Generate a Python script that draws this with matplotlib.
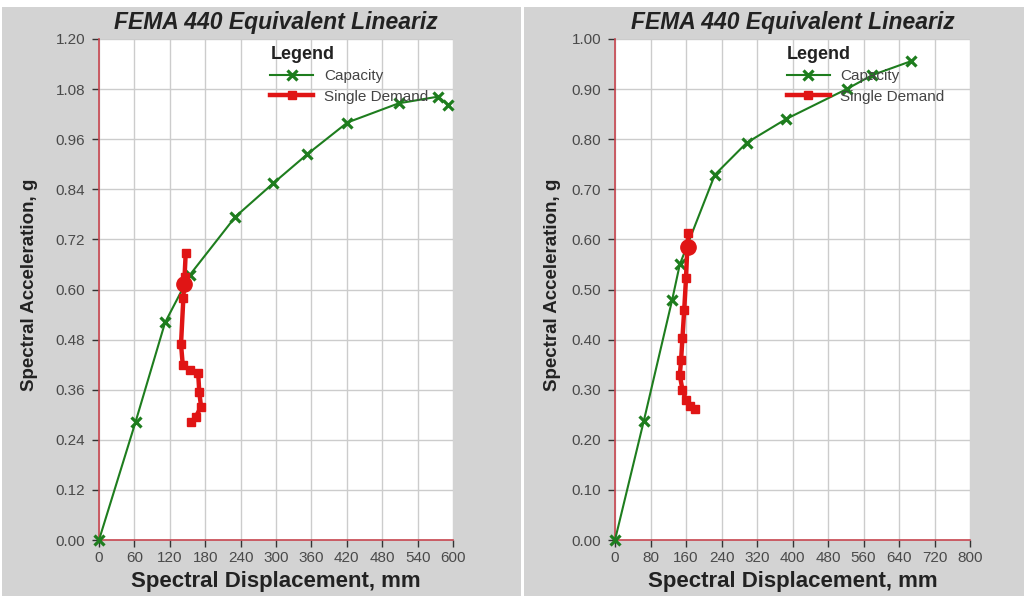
import matplotlib
matplotlib.use("Agg")
import matplotlib.pyplot as plt
from matplotlib.patches import Rectangle

plt.rcParams['font.family'] = ['Liberation Sans', 'DejaVu Sans']

title = "FEMA 440 Equivalent Lineariz"
xlabel = "Spectral Displacement, mm"
ylabel = "Spectral Acceleration, g"
legend_title = "Legend"
series_names = ["Capacity", "Single Demand"]

# Left panel data
left_cap_x = [0, 62, 112, 154, 231, 295, 353, 421, 508, 575, 592]
left_cap_y = [0.0, 0.283, 0.521, 0.635, 0.774, 0.854, 0.924, 1.000, 1.046, 1.062, 1.042]
left_dem_x = [147, 145, 143, 139, 142, 154, 168, 170, 173, 164, 156]
left_dem_y = [0.688, 0.630, 0.580, 0.469, 0.419, 0.407, 0.401, 0.354, 0.319, 0.295, 0.282]
left_perf = (144.6, 0.612)
left_xticks = [0, 60, 120, 180, 240, 300, 360, 420, 480, 540, 600]
left_yticks = [0.00, 0.12, 0.24, 0.36, 0.48, 0.60, 0.72, 0.84, 0.96, 1.08, 1.20]

# Right panel data
right_cap_x = [0, 65, 129, 146, 225, 297, 385, 522, 580, 668]
right_cap_y = [0.0, 0.238, 0.480, 0.550, 0.729, 0.793, 0.840, 0.900, 0.928, 0.956]
right_dem_x = [165, 163, 160, 156, 152, 149, 146, 152, 160, 170, 180]
right_dem_y = [0.612, 0.585, 0.522, 0.460, 0.403, 0.360, 0.329, 0.300, 0.279, 0.268, 0.261]
right_perf = (165, 0.585)
right_xticks = [0, 80, 160, 240, 320, 400, 480, 560, 640, 720, 800]
right_yticks = [0.00, 0.10, 0.20, 0.30, 0.40, 0.50, 0.60, 0.70, 0.80, 0.90, 1.00]

W, H = 1024, 596
fig = plt.figure(figsize=(W / 100, H / 100), dpi=100, facecolor="white")

grey = "#d3d3d3"
fig.add_artist(Rectangle((2 / W, 0), (521 - 2) / W, (H - 7) / H, transform=fig.transFigure,
                         facecolor=grey, edgecolor="none", zorder=0))
fig.add_artist(Rectangle((524 / W, 0), (W - 524) / W, (H - 7) / H, transform=fig.transFigure,
                         facecolor=grey, edgecolor="none", zorder=0))

green = "#1e7d1e"
red = "#e01515"
spine_c = "#c84650"


def make_panel(left_px, right_px, panel_left, cap_x, cap_y, dem_x, dem_y, perf, xticks, yticks, leg_x):
    ax = fig.add_axes([left_px / W, (H - 540) / H, (right_px - left_px) / W, 501 / H])
    ax.set_facecolor("white")
    ax.set_xlim(xticks[0], xticks[-1])
    ax.set_ylim(yticks[0], yticks[-1])
    ax.set_xticks(xticks)
    ax.set_yticks(yticks)
    ax.set_yticklabels(["{:.2f}".format(v) for v in yticks])
    ax.grid(True, color="#cccccc", linewidth=1.0, zorder=0)
    ax.set_axisbelow(True)
    for s in ["top", "right"]:
        ax.spines[s].set_visible(False)
    for s in ["left", "bottom"]:
        ax.spines[s].set_color(spine_c)
        ax.spines[s].set_linewidth(1.2)
    ax.tick_params(axis="both", colors="#333333", labelsize=11, length=5, width=1.0)
    ax.tick_params(axis="y", pad=5)
    ax.tick_params(axis="x", pad=3)
    for lab in ax.get_xticklabels() + ax.get_yticklabels():
        lab.set_color("#4a4a4a")

    ax.plot(cap_x, cap_y, color=green, linewidth=1.5, marker="x", markersize=7,
            markeredgewidth=2.3, label=series_names[0], zorder=3, clip_on=False)
    ax.plot(dem_x, dem_y, color=red, linewidth=3.2, marker="s", markersize=5.5,
            label=series_names[1], zorder=4, clip_on=False)
    ax.plot([perf[0]], [perf[1]], marker="o", color=red, markersize=11, linestyle="none", zorder=5)

    ax.set_title(title, fontsize=16.5, fontweight="bold", fontstyle="italic", color="#222222", pad=7)
    ax.set_xlabel(xlabel, fontsize=16, fontweight="bold", color="#222222", labelpad=4)
    ax.set_ylabel(ylabel, fontsize=13.5, fontweight="bold", color="#222222")
    ax.yaxis.set_label_coords(-(left_px - panel_left - 38) / (right_px - left_px), 0.51)

    leg = ax.legend(loc="upper left", bbox_to_anchor=(leg_x, 1.0), frameon=False,
                    title=legend_title, alignment="left", fontsize=11,
                    handlelength=2.8, handletextpad=0.7, labelspacing=0.42,
                    borderaxespad=0.0, borderpad=0.45)
    leg.get_title().set_fontweight("bold")
    leg.get_title().set_fontsize(13)
    leg.get_title().set_color("#222222")
    leg._legend_handle_box.set_offset  # keep default
    for t in leg.get_texts():
        t.set_color("#444444")
    return ax


make_panel(99, 453, 0, left_cap_x, left_cap_y, left_dem_x, left_dem_y, left_perf,
           left_xticks, left_yticks, 0.465)
make_panel(615, 970, 523, right_cap_x, right_cap_y, right_dem_x, right_dem_y, right_perf,
           right_xticks, right_yticks, 0.465)

fig.savefig("out.png", dpi=100, facecolor="white")
